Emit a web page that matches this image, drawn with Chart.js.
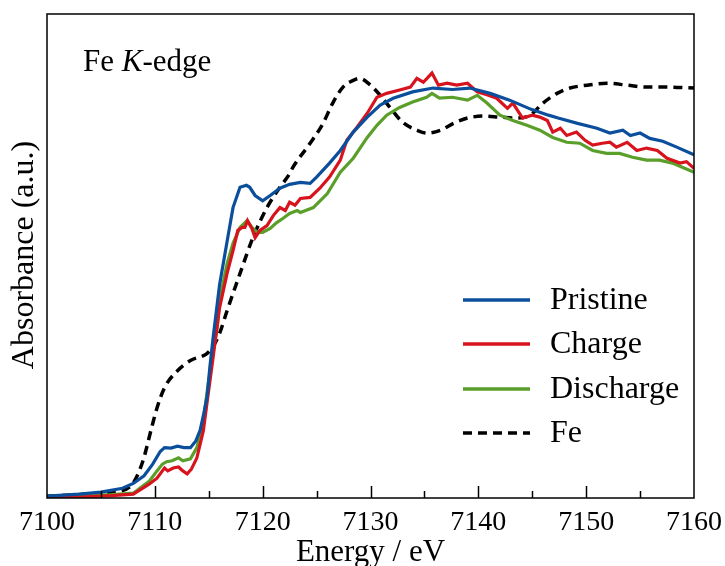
<!DOCTYPE html>
<html>
<head>
<meta charset="utf-8">
<script src="https://cdn.jsdelivr.net/npm/chart.js@4/dist/chart.umd.min.js"></script>
<style>
  body { margin: 0; background: #fff; }
</style>
</head>
<body>
<canvas id="chart-1" width="725" height="566"></canvas>
<script>
// energies (eV) and normalized absorbance
const pristineE = [7100,7103,7105,7107,7108,7109,7109.8,7110.5,7110.9,7111.5,7112.1,7112.7,7113.3,7113.8,7114.2,7114.5,7114.85,7115.1,7115.4,7116,7116.7,7117.25,7117.9,7118.5,7118.8,7119.3,7120,7120.7,7121.6,7122.5,7123.5,7124.4,7125,7126.2,7127.2,7128.4,7129.7,7130.9,7132.1,7133.9,7135.8,7137.6,7139.2,7141.1,7142.9,7144.9,7146.5,7147.4,7149.2,7151,7152.2,7153.4,7154.1,7155,7155.9,7157.1,7158.4,7160];
const pristineA = [0.4,0.8,1.2,2.0,3.0,4.6,7.0,9.6,10.4,10.3,10.7,10.4,10.4,11.8,14,17,21,27,33,44,53,60,64.2,64.6,64.2,62.5,61.4,62.5,64,64.8,65.2,65,66.3,69.2,71.8,75.6,78.7,81.2,82.6,83.9,84.7,84.4,84.7,83.6,82.2,80.3,79.1,78.5,77.4,76.4,75.4,76,74.9,75.4,74.3,73.7,72.5,70.9];

const chargeE = [7100,7103,7106,7108,7109.5,7110.2,7110.7,7110.9,7111.2,7111.7,7112.2,7112.6,7113,7113.4,7113.9,7114.5,7114.9,7115.4,7116,7116.7,7117.25,7117.7,7118.1,7118.35,7118.6,7119,7119.3,7119.75,7120.4,7121,7121.6,7122.1,7122.5,7123,7123.5,7124.4,7125.3,7126.2,7127.2,7127.8,7128.75,7129.7,7130.6,7131.5,7132.7,7133.7,7134.3,7134.9,7135.7,7136.3,7137.1,7138,7139,7139.9,7140.8,7141.7,7142.7,7143.2,7144.1,7145,7145.7,7146.4,7146.9,7147.6,7148.2,7149.1,7149.9,7150.6,7151.5,7152.2,7152.8,7153.8,7154.7,7155.6,7156.6,7157.5,7158.7,7159.3,7160];
const chargeA = [0,0.2,0.5,0.8,2.9,4.1,5.6,6.2,5.6,6.2,6.4,5.6,5.0,6.0,8.3,13.9,20.7,29,39.3,46.4,51.1,55.3,55.9,55.9,57.3,55.7,53.8,55.3,56.3,58.4,60,59.4,61.1,60.5,61.9,62.1,64,66.3,69.8,73.9,76.6,79.5,82.8,83.6,84.3,84.9,86.7,85.9,87.8,85.3,85.7,85.3,85.7,83.9,83.3,82.6,80.5,81.6,78.5,79.1,78.7,78,75.6,76.4,74.9,75.6,73.9,72.9,73.3,73.5,72.5,73.5,71.8,72.3,71.8,70.2,69.2,69.5,68.1];

const dischargeE = [7100,7103,7106,7108,7109.5,7110.2,7110.7,7111.1,7111.6,7112.2,7112.6,7113.3,7113.9,7114.5,7114.9,7115.4,7115.8,7116,7116.7,7117.25,7117.9,7118.55,7119,7119.5,7120,7120.7,7121.3,7121.9,7122.5,7123.2,7123.5,7124.7,7126,7127.2,7128.4,7129.7,7130.6,7131.5,7132.7,7133.9,7135.2,7135.7,7136.4,7137.6,7139,7139.9,7140.8,7142,7143.2,7144.5,7145.7,7146.9,7148.2,7149.4,7150.6,7151.9,7153.1,7154.3,7155.6,7156.8,7158,7160];
const dischargeA = [0.4,0.5,0.7,1.0,3.5,5.6,7.0,7.5,7.7,8.3,7.7,8.1,10.4,15.9,22.8,30.4,35.5,40.8,48.4,52.6,55.9,57.3,55.9,54.9,54.9,55.7,56.9,57.8,58.8,59.4,59,60,62.9,67.3,70.2,74.5,77,79.1,80.7,81.8,82.8,83.6,82.6,82.8,82.2,83.2,81.6,79.1,78,77,76,74.5,73.5,73.3,71.8,71.2,71.2,70.4,69.8,69.8,69.2,67.3];

const feE = [7100,7104,7106.8,7108,7108.9,7109.7,7110.2,7110.9,7112.1,7113.3,7114.8,7115.4,7116,7116.7,7117.9,7119.1,7120.4,7121.6,7122.5,7122.8,7124.4,7125.6,7126.5,7127.45,7128.4,7129,7130,7130.9,7131.8,7133,7134.3,7135.2,7136.5,7137.7,7139,7140.4,7142,7143.6,7144.8,7146,7147.3,7148.5,7150.1,7151.9,7153.8,7155.6,7157.5,7160];
const feA = [0.4,0.8,1.4,3.1,7.7,14.5,18.6,22.8,26.3,28.4,29.8,31.3,34,38.7,46.4,53.8,60,64.2,67,68.3,73.3,77.4,81.6,84.9,86.3,86.7,85.3,83.2,80.7,77.6,76,75.4,76,77.4,78.5,78.9,78.7,78.5,79.1,81.6,83.6,84.7,85.3,85.7,85.3,84.9,84.9,84.7];

const seriesNames = ['Pristine', 'Charge', 'Discharge', 'Fe'];
const seriesColors = ['#0b4f9c', '#d7141d', '#5a9f2a', '#000000'];
const xTicks = [7100, 7110, 7120, 7130, 7140, 7150, 7160];

function pts(xs, ys) {
    return xs.map((x, i) => ({ x: x, y: ys[i] }));
}

const serif = 'Liberation Serif, Times New Roman, serif';

// frame, inner ticks, titles, legend and the panel label
const decorations = {
    id: 'decorations',
    afterDraw(chart) {
        const ctx = chart.ctx;
        const a = chart.chartArea;
        const xs = chart.scales.x;
        ctx.save();
        ctx.strokeStyle = '#000';
        ctx.lineWidth = 1.5;
        ctx.strokeRect(a.left, a.top, a.right - a.left, a.bottom - a.top);

        for (let e = 7105; e < 7160; e += 5) {
            const px = Math.round(xs.getPixelForValue(e)) + 0.5;
            const len = (e % 10 === 0) ? 12 : 7;
            ctx.beginPath();
            ctx.moveTo(px, a.bottom);
            ctx.lineTo(px, a.bottom - len);
            ctx.stroke();
        }

        ctx.fillStyle = '#000';
        ctx.textAlign = 'center';
        ctx.textBaseline = 'middle';
        ctx.font = '31px ' + serif;
        ctx.fillText('Energy / eV', (a.left + a.right) / 2, 553);

        ctx.save();
        ctx.translate(25, 255);
        ctx.rotate(-Math.PI / 2);
        ctx.font = '32px ' + serif;
        ctx.fillText('Absorbance (a.u.)', 0, 0);
        ctx.restore();

        // Fe K-edge
        ctx.textAlign = 'left';
        ctx.font = '31px ' + serif;
        let tx = 83;
        ctx.fillText('Fe ', tx, 63);
        tx += ctx.measureText('Fe ').width;
        ctx.font = 'italic 31px ' + serif;
        ctx.fillText('K', tx, 63);
        tx += ctx.measureText('K').width;
        ctx.font = '31px ' + serif;
        ctx.fillText('-edge', tx, 63);

        // legend
        const rows = [300, 344, 389, 433];
        chart.data.datasets.forEach((ds, i) => {
            ctx.strokeStyle = ds.borderColor;
            ctx.lineWidth = 3.5;
            ctx.setLineDash(ds.borderDash || []);
            ctx.beginPath();
            ctx.moveTo(463, rows[i]);
            ctx.lineTo(530, rows[i]);
            ctx.stroke();
            ctx.setLineDash([]);
            ctx.fillStyle = '#000';
            ctx.font = '32px ' + serif;
            ctx.fillText(ds.label, 550, rows[i] + 1);
        });
        ctx.restore();
    }
};

new Chart(document.getElementById('chart-1'), {
    type: 'line',
    data: {
        datasets: [
            { label: seriesNames[0], data: pts(pristineE, pristineA), borderColor: seriesColors[0], borderWidth: 3.2 },
            { label: seriesNames[1], data: pts(chargeE, chargeA), borderColor: seriesColors[1], borderWidth: 3.2 },
            { label: seriesNames[2], data: pts(dischargeE, dischargeA), borderColor: seriesColors[2], borderWidth: 3.2 },
            { label: seriesNames[3], data: pts(feE, feA), borderColor: seriesColors[3], borderWidth: 3.5, borderDash: [9, 6], cubicInterpolationMode: 'monotone' }
        ]
    },
    options: {
        responsive: false,
        animation: false,
        layout: { padding: { left: 47, right: 31, top: 14, bottom: 0 } },
        elements: { point: { radius: 0 }, line: { tension: 0, fill: false } },
        plugins: { legend: { display: false }, tooltip: { enabled: false } },
        scales: {
            x: {
                type: 'linear',
                min: 7100,
                max: 7160,
                afterBuildTicks: (scale) => { scale.ticks = xTicks.map(v => ({ value: v })); },
                afterFit: (scale) => {
                    scale.height = 68;
                    scale.paddingLeft = 0;
                    scale.paddingRight = 0;
                },
                grid: { display: false, drawTicks: false },
                border: { display: false },
                ticks: {
                    color: '#000',
                    padding: 8,
                    maxRotation: 0,
                    font: { family: serif, size: 28 },
                    callback: (v) => String(v)
                }
            },
            y: {
                display: false,
                min: 0,
                max: 100
            }
        }
    },
    plugins: [decorations]
});
</script>
</body>
</html>
